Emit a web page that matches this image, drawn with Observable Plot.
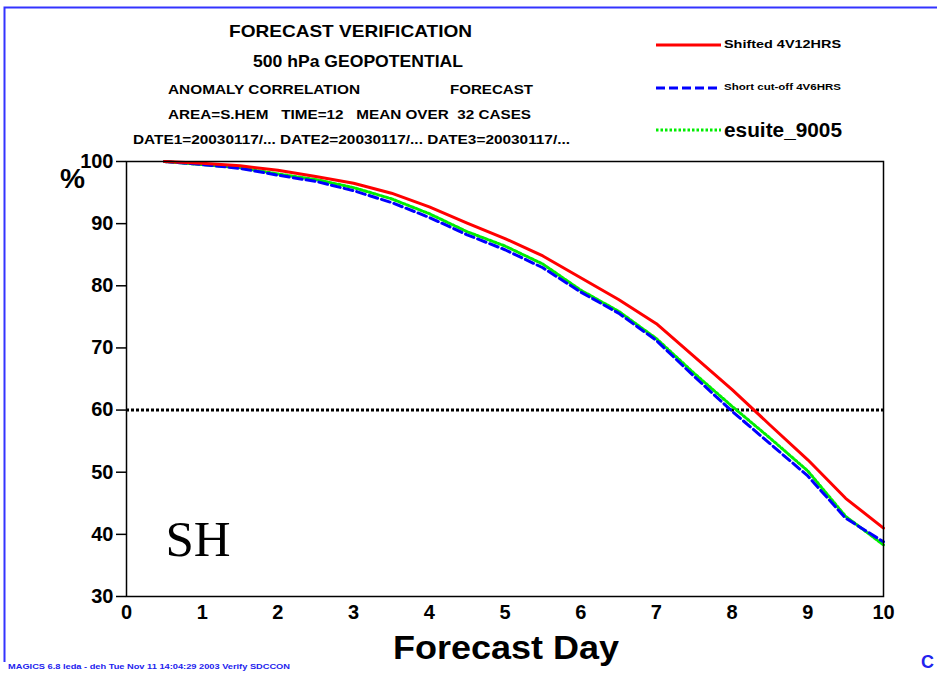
<!DOCTYPE html>
<html>
<head>
<meta charset="utf-8">
<script src="https://cdn.jsdelivr.net/npm/d3@7"></script>
<script src="https://cdn.jsdelivr.net/npm/@observablehq/plot@0.6"></script>
<style>
  html, body { margin: 0; padding: 0; background: #fff; }
  #wrap { position: relative; width: 937px; height: 674px; overflow: hidden; font-family: "Liberation Sans", Arial, sans-serif; }
  #wrap svg.plot { position: absolute; left: 0; top: 0; }
  .t { position: absolute; white-space: pre; font-weight: bold; color: #000; line-height: 1; transform-origin: 0 0; }
</style>
</head>
<body>
<div id="wrap"></div>
<script>
const days = [0.5, 1, 1.5, 2, 2.5, 3, 3.5, 4, 4.5, 5, 5.5, 6, 6.5, 7, 7.5, 8, 8.5, 9, 9.5, 10];
const shifted = [100, 99.7, 99.3, 98.6, 97.6, 96.5, 94.9, 92.7, 90.1, 87.6, 84.8, 81.3, 77.8, 73.9, 68.6, 63.3, 57.6, 52.0, 45.8, 41.0];
const shortCut = [100, 99.5, 98.9, 97.8, 96.8, 95.3, 93.4, 91.0, 88.2, 85.8, 82.9, 79.0, 75.6, 71.2, 65.4, 59.8, 54.6, 49.4, 42.6, 38.8];
const esuite = [100, 99.5, 99.0, 98.0, 97.1, 95.8, 94.0, 91.6, 88.7, 86.4, 83.5, 79.3, 75.9, 71.5, 65.9, 60.6, 55.5, 50.2, 42.9, 38.3];
const seriesNames = ["Shifted 4V12HRS", "Short cut-off 4V6HRS", "esuite_9005"];
const xTicks = [0, 1, 2, 3, 4, 5, 6, 7, 8, 9, 10];
const yTicks = [30, 40, 50, 60, 70, 80, 90, 100];
const refLevel = [60];

const toRows = vals => days.map((d, i) => ({day: d, ac: vals[i]}));

const plot = Plot.plot({
  width: 937,
  height: 674,
  marginLeft: 126,
  marginRight: 54,
  marginTop: 161,
  marginBottom: 78,
  x: {domain: [0, 10]},
  y: {domain: [30, 100]},
  style: {fontFamily: "Liberation Sans, Arial, sans-serif", fontSize: "20px", fontWeight: "bold", color: "#000", background: "transparent"},
  marks: [
    Plot.ruleY(refLevel, {stroke: "#000", strokeWidth: 3, strokeDasharray: "3,2"}),
    Plot.line(toRows(esuite), {x: "day", y: "ac", stroke: "#00ee00", strokeWidth: 3, strokeDasharray: "2.5,2"}),
    Plot.line(toRows(shortCut), {x: "day", y: "ac", stroke: "#0000ff", strokeWidth: 3, strokeDasharray: "9,4"}),
    Plot.line(toRows(shifted), {x: "day", y: "ac", stroke: "#ff0000", strokeWidth: 3}),
    Plot.frame({stroke: "#000", strokeWidth: 1.5}),
    Plot.axisY(yTicks, {tickSize: 10, tickPadding: 3, label: null, strokeWidth: 1.5}),
    Plot.axisX(xTicks, {tickSize: 0, tickPadding: 8, label: null}),
    Plot.text(["SH"], {frameAnchor: "bottom-left", dx: 39, dy: -41, fontSize: 51, fontWeight: "normal", fontFamily: "Liberation Serif, Times New Roman, serif", textAnchor: "start"})
  ]
});
plot.classList.add("plot");
const wrap = document.getElementById("wrap");
wrap.appendChild(plot);

// Places text so that it spans [x0, x1] horizontally (scaled to fit)
function addText(txt, x0, x1, top, size, opts = {}) {
  const d = document.createElement("div");
  d.className = "t";
  d.textContent = txt;
  d.style.left = x0 + "px";
  d.style.top = top + "px";
  d.style.fontSize = size + "px";
  if (opts.color) d.style.color = opts.color;
  if (opts.weight) d.style.fontWeight = opts.weight;
  wrap.appendChild(d);
  const w = d.getBoundingClientRect().width;
  if (w > 0) d.style.transform = `scaleX(${(x1 - x0) / w})`;
  return d;
}

// Blue page border + legend swatches
const deco = document.createElementNS("http://www.w3.org/2000/svg", "svg");
deco.setAttribute("width", 937); deco.setAttribute("height", 674);
deco.style.position = "absolute"; deco.style.left = "0"; deco.style.top = "0";
deco.innerHTML = `<path d="M4.5,662 V7.5 H937" fill="none" stroke="#3333ff" stroke-width="2"/>
  <line x1="656" x2="721" y1="45" y2="45" stroke="#ff0000" stroke-width="3"/>
  <line x1="656" x2="718" y1="88" y2="88" stroke="#0000ff" stroke-width="3" stroke-dasharray="9,4"/>
  <line x1="656" x2="721" y1="130" y2="130" stroke="#00ee00" stroke-width="3" stroke-dasharray="2.5,2"/>`;
wrap.appendChild(deco);

// Titles
addText("FORECAST VERIFICATION", 229, 472, 23, 17);
addText("500 hPa GEOPOTENTIAL", 253, 463, 53, 17);
addText("ANOMALY CORRELATION", 168, 360, 84, 12.5);
addText("FORECAST", 450, 533, 84, 12.5);
addText("AREA=S.HEM   TIME=12   MEAN OVER  32 CASES", 168, 531, 109, 12.5);
addText("DATE1=20030117/... DATE2=20030117/... DATE3=20030117/...", 133, 570, 134, 12.5);

// Legend labels
addText(seriesNames[0], 724, 841, 39, 11);
addText(seriesNames[1], 724, 841, 83, 9);
addText(seriesNames[2], 724, 842, 120, 20);

// Axis labels
addText("%", 60, 85, 165, 28);
addText("Forecast Day", 393, 619, 631, 33);

// Footer
addText("MAGICS 6.8 leda - deh Tue Nov 11 14:04:29 2003 Verify SDCCON", 8, 290, 663, 8, {color: "#2222ee"});
addText("C", 921, 934, 653, 18, {color: "#2222ee"});
</script>
</body>
</html>
